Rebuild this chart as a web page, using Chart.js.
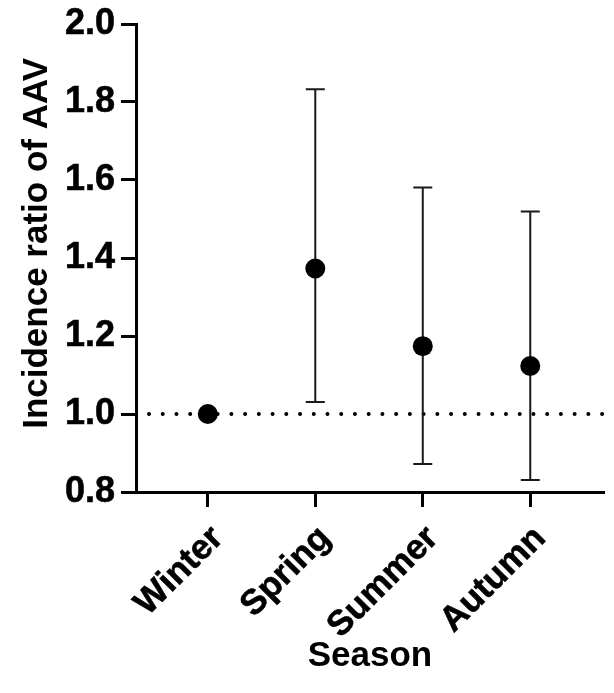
<!DOCTYPE html>
<html><head><meta charset="utf-8">
<script src="https://cdn.jsdelivr.net/npm/chart.js@4/dist/chart.umd.min.js"></script>
<style>html,body{margin:0;padding:0;background:#fff}#wrap{width:614px;height:693px;position:relative}</style>
</head><body><div id="wrap"><canvas id="c"></canvas></div>
<script>
const seasons = ['Winter', 'Spring', 'Summer', 'Autumn'];
const ratio = [1.0, 1.373, 1.174, 1.123];
const lower = [null, 1.031, 0.872, 0.831];
const upper = [null, 1.833, 1.581, 1.519];
const yTicks = [0.8, 1.0, 1.2, 1.4, 1.6, 1.8, 2.0];
const referenceLine = 1.0;

const FONT = '"Liberation Sans", Arial, Helvetica, sans-serif';

const errorBars = {
  id: 'errorBars',
  beforeDatasetsDraw(chart) {
    const {ctx, chartArea, scales: {x, y}} = chart;
    ctx.save();
    // dotted reference line
    const yr = y.getPixelForValue(referenceLine);
    ctx.strokeStyle = '#000';
    ctx.lineWidth = 4;
    ctx.lineCap = 'round';
    ctx.setLineDash([0, 13.73]);
    ctx.beginPath();
    ctx.moveTo(chartArea.left + 13, yr);
    ctx.lineTo(chartArea.right, yr);
    ctx.stroke();
    ctx.setLineDash([]);
    // error bars
    ctx.strokeStyle = '#1a1a1a';
    ctx.lineWidth = 2;
    ctx.lineCap = 'butt';
    for (let i = 0; i < seasons.length; i++) {
      if (lower[i] == null) continue;
      const px = x.getPixelForValue(i);
      const yl = y.getPixelForValue(lower[i]);
      const yu = y.getPixelForValue(upper[i]);
      ctx.beginPath();
      ctx.moveTo(px, yl); ctx.lineTo(px, yu);
      ctx.moveTo(px - 9.5, yl); ctx.lineTo(px + 9.5, yl);
      ctx.moveTo(px - 9.5, yu); ctx.lineTo(px + 9.5, yu);
      ctx.stroke();
    }
    ctx.restore();
  }
};

new Chart(document.getElementById('c'), {
  type: 'scatter',
  data: {
    datasets: [{
      data: ratio.map((v, i) => ({x: i, y: v})),
      pointRadius: 10,
      pointHoverRadius: 10,
      backgroundColor: '#000',
      borderColor: '#000',
      borderWidth: 0
    }]
  },
  options: {
    responsive: true,
    maintainAspectRatio: false,
    animation: false,
    layout: {padding: {top: 19, right: 2, left: 0, bottom: 0}},
    plugins: {legend: {display: false}, tooltip: {enabled: false}},
    scales: {
      x: {
        type: 'linear',
        min: -0.668,
        max: 3.686,
        afterBuildTicks: s => { s.ticks = seasons.map((_, i) => ({value: i})); },
        afterFit: s => { s.height = 201; },
        border: {display: true, color: '#000', width: 3},
        grid: {drawOnChartArea: false, drawTicks: true, tickLength: 15, tickWidth: 3, color: '#000', tickColor: '#000'},
        ticks: {
          autoSkip: false,
          minRotation: 45, maxRotation: 45,
          padding: 11,
          labelOffset: 10,
          color: '#000',
          textStrokeColor: '#000',
          textStrokeWidth: 0.6,
          font: {family: FONT, size: 35, weight: 'bold'},
          callback: v => seasons[v]
        },
        title: {display: true, text: 'Season', color: '#000', padding: {top: 0, bottom: 16},
          font: {family: FONT, size: 35, weight: 'bold'}}
      },
      y: {
        min: 0.8,
        max: 2.0,
        afterBuildTicks: s => { s.ticks = yTicks.map(v => ({value: v})); },
        afterFit: s => { s.width = 136; },
        border: {display: true, color: '#000', width: 3},
        grid: {drawOnChartArea: false, drawTicks: true, tickLength: 15, tickWidth: 3, color: '#000', tickColor: '#000'},
        ticks: {
          padding: 6,
          color: '#000',
          textStrokeColor: '#000',
          textStrokeWidth: 0.6,
          font: {family: FONT, size: 36, weight: 'bold', lineHeight: 1.0},
          callback: v => v.toFixed(1)
        },
        title: {display: true, text: '   Incidence ratio of AAV', color: '#000', padding: {top: 16, bottom: 0},
          font: {family: FONT, size: 35, weight: 'bold'}}
      }
    }
  },
  plugins: [errorBars]
});
</script>
</body></html>
